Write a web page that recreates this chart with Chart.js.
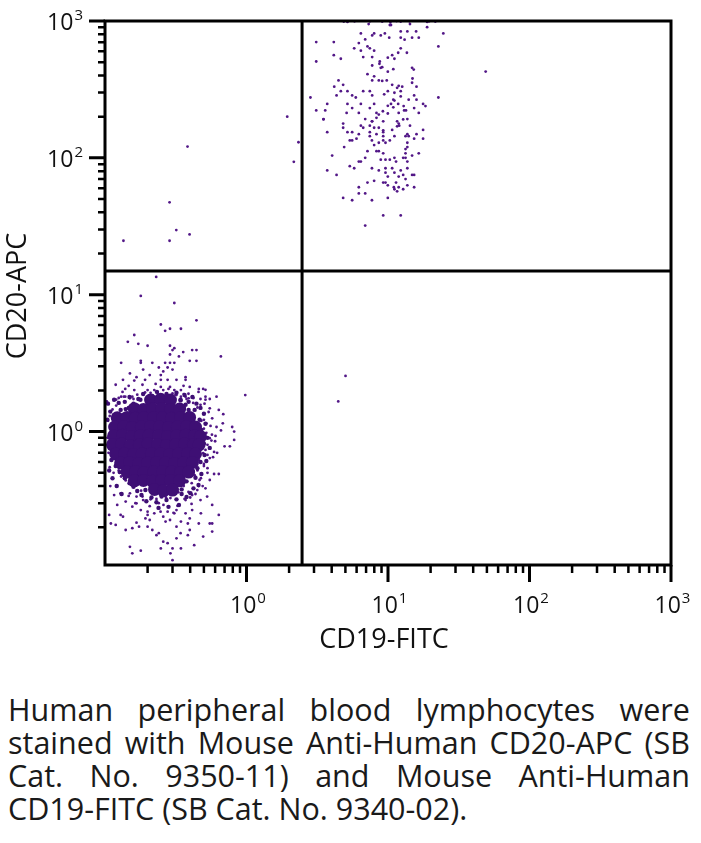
<!DOCTYPE html>
<html>
<head>
<meta charset="utf-8">
<script src="https://cdn.jsdelivr.net/npm/chart.js@4.4.1/dist/chart.umd.min.js"></script>
<style>
  body { margin: 0; background: #fff; width: 701px; height: 843px; overflow: hidden; font-family: 'Open Sans', sans-serif; }
  #plot { position: absolute; left: 0; top: 0; }
  .caption { position: absolute; left: 8px; top: 693px; width: 682px; font-size: 30.5px; line-height: 33px; color: #1a1a1a; }
  .caption .ln { display: flex; justify-content: space-between; white-space: nowrap; }
  .caption .last { white-space: nowrap; }
</style>
</head>
<body>
<canvas id="plot" width="701" height="670"></canvas>
<div class="caption">
  <div class="ln"><span>Human</span><span>peripheral</span><span>blood</span><span>lymphocytes</span><span>were</span></div>
  <div class="ln"><span>stained</span><span>with</span><span>Mouse</span><span>Anti-Human</span><span>CD20-APC</span><span>(SB</span></div>
  <div class="ln"><span>Cat.</span><span>No.</span><span>9350-11)</span><span>and</span><span>Mouse</span><span>Anti-Human</span></div>
  <div class="last">CD19-FITC (SB Cat. No. 9340-02).</div>
</div>
<script>
// axis settings
const xLabel = 'CD19-FITC';
const yLabel = 'CD20-APC';
const xRange = [0.1, 1000];
const yRange = [0.106, 1000];
const majorTicks = [1, 10, 100, 1000];
const majorExps = ['0', '1', '2', '3'];
const decadeStarts = [0.1, 1, 10, 100];
const minorSteps = [2, 3, 4, 5, 6, 7, 8, 9];
const gateX = 2.47;
const gateY = 14.9;

// events, [CD19, CD20]
// dense part of the CD19-CD20- population
const lowerCore = [
  [0.21,1.7],[0.247,1.72],[0.29,1.7],
  [0.161,1.47],[0.187,1.45],[0.217,1.46],[0.251,1.47],[0.29,1.45],[0.337,1.46],
  [0.122,1.26],[0.143,1.27],[0.164,1.25],[0.188,1.26],[0.221,1.27],[0.255,1.26],[0.295,1.25],[0.342,1.26],[0.396,1.27],
  [0.117,1.08],[0.136,1.09],[0.156,1.07],[0.181,1.08],[0.21,1.09],[0.243,1.08],[0.281,1.07],[0.325,1.08],[0.377,1.09],[0.436,1.08],
  [0.115,0.93],[0.133,0.94],[0.154,0.92],[0.178,0.93],[0.205,0.94],[0.239,0.93],[0.277,0.92],[0.32,0.93],[0.371,0.94],[0.43,0.93],[0.473,0.92],
  [0.113,0.80],[0.131,0.81],[0.151,0.79],[0.175,0.80],[0.202,0.81],[0.235,0.80],[0.272,0.79],[0.315,0.80],[0.365,0.81],[0.422,0.80],[0.462,0.80],
  [0.119,0.687],[0.138,0.69],[0.159,0.68],[0.183,0.687],[0.213,0.69],[0.247,0.687],[0.286,0.68],[0.331,0.687],[0.383,0.69],[0.436,0.687],
  [0.129,0.59],[0.149,0.595],[0.173,0.585],[0.2,0.59],[0.232,0.595],[0.268,0.59],[0.31,0.585],[0.359,0.59],[0.415,0.595],
  [0.143,0.506],[0.164,0.51],[0.188,0.50],[0.221,0.506],[0.255,0.51],[0.295,0.506],[0.342,0.50],[0.39,0.506],
  [0.161,0.437],[0.187,0.44],[0.217,0.433],[0.251,0.437],[0.29,0.44],[0.337,0.437],
  [0.224,0.378],[0.259,0.37],[0.3,0.374]
];

// ragged edge round the dense part
const lowerEdge = [
  [0.138,1.65],[0.149,1.79],[0.159,1.6],[0.172,1.73],[0.186,1.88],[0.198,1.69],[0.215,1.82],[0.233,1.95],[0.251,1.76],[0.272,1.88],
  [0.295,1.73],[0.32,1.92],[0.342,1.71],[0.365,1.85],[0.39,1.65],[0.415,1.79],[0.443,1.6],[0.371,1.57],[0.147,1.49],[0.129,1.44],
  [0.43,1.44],[0.473,1.49],[0.5,1.35],[0.466,1.22],[0.513,1.14],[0.48,1.03],[0.53,0.9],[0.5,0.82],[0.55,0.76],[0.505,0.675],
  [0.473,0.6],[0.52,0.61],[0.45,0.54],[0.48,0.49],[0.436,0.46],[0.458,0.407],[0.422,0.385],[0.402,0.355],[0.377,0.333],[0.348,0.35],
  [0.32,0.32],[0.295,0.35],[0.272,0.316],[0.251,0.335],[0.231,0.305],[0.213,0.33],[0.196,0.31],[0.181,0.344],[0.169,0.368],[0.159,0.395],
  [0.149,0.42],[0.138,0.456],[0.127,0.506],[0.119,0.56],[0.111,0.62],[0.281,0.282],[0.239,0.277],[0.333,0.291],[0.105,1.6],[0.109,1.4],
  [0.104,1.22],[0.107,0.52],[0.113,0.456],[0.121,0.4],[0.131,0.35],[0.116,1.71],[0.125,1.62],[0.178,1.71],[0.342,1.69],[0.14,1.46],
  [0.39,1.44],[0.193,0.374],[0.348,0.378],[0.377,0.433]
];

const lowerSpread = [
  [0.309,8.7],[0.443,6.5],[0.248,6.06],[0.288,5.64],[0.266,5.45],[0.344,5.64],[0.161,5.08],[0.145,4.53],[0.172,4.38],[0.2,4.24],
  [0.288,4.24],[0.309,4.07],[0.3,3.94],[0.357,3.81],[0.413,3.94],[0.443,3.94],[0.288,3.66],[0.333,3.54],[0.659,3.54],[0.397,3.29],
  [0.443,3.29],[0.13,3.18],[0.179,3.29],[0.179,3.18],[0.216,3.18],[0.266,3.18],[0.288,3.18],[0.309,3.18],[0.186,2.84],[0.24,2.94],
  [0.258,2.75],[0.277,2.94],[0.3,2.84],[0.15,2.66],[0.167,2.5],[0.161,2.36],[0.134,2.39],[0.192,2.39],[0.207,2.59],[0.248,2.59],
  [0.248,2.39],[0.277,2.39],[0.32,2.39],[0.371,2.5],[0.371,2.39],[0.139,2.05],[0.139,1.8],[0.13,1.8],[0.161,2.01],[0.192,1.93],
  [0.2,2.01],[0.223,2.01],[0.248,2.12],[0.258,2.01],[0.288,2.12],[0.309,2.01],[0.344,2.01],[0.397,2.12],[0.46,2.05],[0.494,2.05],
  [0.513,1.8],[0.614,1.8],[0.344,1.8],[0.371,1.8],[0.413,1.8],
  [0.55,1.73],[0.637,1.44],[0.685,1.34],[0.572,1.25],[0.614,1.08],[0.792,1.08],[0.818,1.0],[0.818,0.87],[0.763,0.78],[0.513,0.97],
  [0.55,0.895],[0.53,0.80],[0.494,0.695],[0.53,0.675],[0.476,0.60],[0.53,0.54],[0.59,0.49],[0.637,0.49],[0.55,0.443],[0.476,0.456],
  [0.103,1.66],[0.12,1.71],[0.136,1.8],[0.156,1.8],[0.108,1.3],[0.11,1.0],[0.107,0.8],[0.112,0.62],[0.108,0.55],[0.115,0.5],
  [0.513,1.71],[0.473,1.57],[0.55,1.48],
  [0.109,0.40],[0.116,0.344],[0.122,0.291],[0.129,0.246],[0.134,0.239],[0.107,0.246],[0.11,0.213],[0.119,0.208],[0.14,0.191],[0.15,0.144],
  [0.156,0.129],[0.179,0.135],[0.167,0.216],[0.174,0.202],[0.156,0.197],[0.193,0.232],[0.207,0.226],[0.2,0.202],[0.216,0.191],[0.231,0.175],
  [0.24,0.181],[0.258,0.157],[0.277,0.153],[0.248,0.14],[0.3,0.14],[0.29,0.129],[0.3,0.115],[0.344,0.14],[0.427,0.148],[0.32,0.166],
  [0.342,0.181],[0.385,0.175],[0.397,0.191],[0.494,0.171],[0.572,0.186],[0.572,0.213],[0.55,0.213],[0.46,0.213],[0.637,0.246],[0.476,0.253],
  [0.572,0.291],[0.397,0.232],[0.385,0.213],[0.344,0.22],[0.32,0.202],[0.288,0.226],[0.268,0.22],[0.258,0.239],[0.309,0.253],[0.277,0.26],
  [0.32,0.267],[0.371,0.253],[0.413,0.267],[0.223,0.253],[0.2,0.26],[0.179,0.267],[0.156,0.283],[0.167,0.299],[0.14,0.308],[0.371,0.316],
  [0.413,0.344],[0.449,0.374],[0.513,0.385],[0.46,0.40],[0.129,0.354],[0.15,0.354],[0.167,0.335],[0.186,0.316],[0.473,0.316],[0.527,0.335],
  [0.235,1.93],[0.3,1.9],[0.32,1.85],[0.36,1.88],[0.39,1.75],[0.42,1.62],[0.45,1.5],[0.5,1.35],[0.48,1.2],[0.52,1.15],
  [0.5,1.05],[0.46,0.62],[0.5,0.58],[0.45,0.52],[0.43,0.48],[0.41,0.42],[0.36,0.4],[0.33,0.36],[0.4,0.33],[0.27,0.33],
  [0.24,0.3],[0.21,0.32],[0.18,0.37],[0.16,0.4],[0.14,0.44],[0.13,0.47],[0.125,0.52],[0.15,1.75],[0.12,1.55],[0.113,1.45],
  [0.105,1.2],[0.104,0.9],[0.106,0.7],[0.55,0.75],[0.57,0.95],[0.6,0.85],[0.58,0.65],[0.62,0.7],[0.66,1.02],[0.68,1.15],[0.7,0.78],
  [0.119,2.2],[0.133,1.95],[0.147,2.16],[0.169,1.86],[0.184,2.2],[0.21,1.92],[0.228,2.23],[0.259,1.82],[0.281,2.05],[0.315,1.86],
  [0.359,2.16],[0.389,1.89],[0.422,1.76],[0.458,1.95],[0.513,2.02],[0.125,1.76],[0.159,1.73],[0.196,1.76],[0.239,1.73],[0.3,1.76],
  [0.377,1.73],[0.473,1.73],
  [0.505,1.6],[0.54,1.39],[0.5,1.22],[0.557,1.1],[0.52,0.98],[0.565,0.86],[0.513,0.735],[0.55,0.64],[0.5,0.56],[0.53,0.5],
  [0.466,0.443],[0.49,0.40],[0.59,0.71],[0.604,0.93],
  [0.147,0.339],[0.164,0.30],[0.184,0.335],[0.207,0.285],[0.231,0.322],[0.259,0.291],[0.29,0.327],[0.325,0.287],[0.365,0.322],[0.409,0.296],
  [0.247,0.26],[0.305,0.255],[0.2,0.246],[0.389,0.362],[0.436,0.35]
];

const upperCluster = [
  [3.11,701],[4.14,701],[3.11,506],[4.14,563],[4.64,530],[2.83,276],[3.11,222],[3.6,222],[3.72,248],[3.5,192],
  [4.17,331],[4.33,286],[4.47,368],[4.82,342],[4.64,307],[5.17,307],[5.17,248],[5.1,213],[5.58,286],[5.58,231],
  [5.77,631],[6.22,690],[6.43,811],[6.43,607],[6.68,545],[5.92,276],[6.43,248],[6.22,213],[6.68,307],[6.9,733],
  [7.16,652],[7.44,631],[7.73,785],[7.98,811],[7.73,545],[7.73,473],[7.98,607],[7.16,409],[7.73,368],[7.98,394],
  [8.61,368],[7.44,307],[7.73,286],[7.98,248],[7.44,231],[8.29,213],[8.61,207],[6.9,192],[7.7,185],[8.89,785],
  [9.5,811],[10.2,755],[10.3,933],[10.5,933],[8.7,487],[8.89,455],[9.1,460],[8.75,506],[9.97,540],[10.7,563],
  [11.1,530],[10.9,445],[9.97,426],[9.1,365],[9.8,368],[10.7,342],[11.6,325],[11.9,336],[12.6,331],[12.3,307],
  [11.1,299],[9.97,307],[9.4,291],[10.9,266],[11.1,262],[10.5,248],[9.97,240],[9.2,219],[9.97,211],[10.9,234],
  [11.8,248],[12.3,281],[11.9,213],[13.0,222],[13.4,222],[12.9,239],[14.0,266],[15.9,266],[15.3,286],[14.8,354],
  [14.9,380],[15.9,331],[14.8,455],[15.2,442],[12.3,839],[13.7,839],[15.8,839],[12.3,755],[13.1,730],[14.8,755],
  [16.5,755],[18.9,902],[24.6,811],[22.7,652],[12.3,631],[11.8,586],[13.6,586],[17.7,248],[18.4,239],[22.7,276],
  [15.3,231],[16.5,213],[13.7,192],[11.6,185],[9.25,185],[8.29,196],
  [4.87,990],[5.17,985],[5.8,995],[7.3,950],[7.44,995],[9.1,990],[10.4,985],[10.4,940],[11.5,998],[12.3,990],
  [14.2,995],[14.3,950],[18.9,985],[19.5,995],[21.6,990],
  [3.5,191],[4.82,178],[4.82,166],[3.72,154],[5.17,154],[5.58,154],[6.43,172],[6.68,166],[7.44,172],[7.73,185],
  [7.98,166],[8.61,166],[9.25,159],[9.25,154],[10.7,160],[11.6,170],[11.9,178],[12.0,172],[12.8,191],[14.3,172],
  [6.22,149],[7.44,154],[7.44,144],[8.29,149],[9.25,144],[11.1,144],[13.3,144],[13.7,149],[14.0,144],[15.9,149],
  [17.7,160],[17.7,138],[15.3,138],[5.37,134],[5.58,134],[5.99,138],[7.7,134],[7.98,124],[8.61,129],[9.25,134],
  [9.6,129],[10.3,134],[13.7,129],[13.7,120],[4.9,120],[4.03,104],[7.16,112],[8.29,112],[8.61,112],[9.25,108],
  [13.3,116],[13.3,108],[14.8,104],[16.5,108],[6.9,100],[8.89,97],[9.6,97],[10.3,97],[11.1,100],[11.4,94],
  [12.8,100],[13.3,100],[13.7,94],[6.22,94],[6.43,94],[5.37,87],[5.77,84],[3.72,81],[4.33,75],[7.7,84],
  [8.61,81],[9.6,84],[9.6,78],[10.7,84],[11.1,78],[12.3,81],[12.8,75],[13.7,84],[14.8,75],[15.3,75],
  [9.97,73],[11.9,73],[13.3,70],[7.16,66],[7.98,68],[9.25,66],[9.6,66],[9.97,63],[11.4,66],[11.9,61],
  [13.7,63],[15.3,61],[6.22,61],[11.0,61],[11.1,59],[11.6,57],[12.8,59],[6.22,55],[6.9,55],[4.82,51],
  [5.58,49],[7.7,49],[9.97,51],[9.25,38],[12.3,38],[6.9,32]
];

const strayEvents = [
  [0.135,24.8],[0.286,47.3],[0.286,24.8],[0.319,29.7],[0.396,27.6],[0.383,121],[1.94,200],[2.33,130],
  [2.16,93.5],[0.23,13.5],[0.179,9.8],[5.01,2.55],[4.45,1.66],[49,427],[0.98,1.85]
];

const dotColor = '#521787';
const coreColor = '#3e0f74';

function toPoints(list) {
  return list.map(p => ({ x: p[0], y: p[1] }));
}

function drawPower(ctx, base, exp, x, y, align, baseSize, expSize) {
  ctx.font = baseSize + 'px "Open Sans"';
  const bw = ctx.measureText(base).width;
  ctx.font = expSize + 'px "Open Sans"';
  const ew = ctx.measureText(exp).width;
  let left = x;
  if (align === 'center') left = x - (bw + ew) / 2;
  if (align === 'right') left = x - bw - ew;
  ctx.textAlign = 'left';
  ctx.textBaseline = 'alphabetic';
  ctx.font = baseSize + 'px "Open Sans"';
  ctx.fillText(base, left, y);
  ctx.font = expSize + 'px "Open Sans"';
  ctx.fillText(exp, left + bw + 1, y - baseSize * 0.42);
}

const flowAxes = {
  id: 'flowAxes',
  afterDatasetsDraw(chart) {
    const { ctx, chartArea: a, scales: { x, y } } = chart;
    ctx.save();
    ctx.strokeStyle = '#000';
    ctx.fillStyle = '#111';
    ctx.lineCap = 'butt';

    // quadrant gates
    ctx.lineWidth = 3;
    const gx = x.getPixelForValue(gateX);
    const gy = y.getPixelForValue(gateY);
    ctx.beginPath();
    ctx.moveTo(gx, a.top); ctx.lineTo(gx, a.bottom);
    ctx.moveTo(a.left, gy); ctx.lineTo(a.right, gy);
    ctx.stroke();

    // frame
    ctx.strokeRect(a.left, a.top, a.right - a.left, a.bottom - a.top);

    // minor ticks
    ctx.lineWidth = 2.5;
    ctx.beginPath();
    decadeStarts.forEach(d => {
      minorSteps.forEach(m => {
        const v = d * m;
        if (v > xRange[0] && v < xRange[1]) {
          const px = x.getPixelForValue(v);
          ctx.moveTo(px, a.bottom); ctx.lineTo(px, a.bottom + 8);
        }
        if (v > yRange[0] && v < yRange[1]) {
          const py = y.getPixelForValue(v);
          ctx.moveTo(a.left, py); ctx.lineTo(a.left - 7, py);
        }
      });
    });
    ctx.stroke();

    // major ticks and labels
    ctx.lineWidth = 3;
    ctx.beginPath();
    majorTicks.forEach(v => {
      const px = x.getPixelForValue(v);
      ctx.moveTo(px, a.bottom); ctx.lineTo(px, a.bottom + 17);
      const py = y.getPixelForValue(v);
      ctx.moveTo(a.left, py); ctx.lineTo(a.left - 16, py);
    });
    ctx.stroke();

    majorTicks.forEach((v, i) => {
      drawPower(ctx, '10', majorExps[i], x.getPixelForValue(v) + 1, 613, 'center', 23, 15);
      drawPower(ctx, '10', majorExps[i], 82, y.getPixelForValue(v) + 9, 'right', 23, 15);
    });

    // axis titles
    ctx.font = '27px "Open Sans"';
    ctx.textAlign = 'center';
    ctx.textBaseline = 'alphabetic';
    ctx.fillText(xLabel, 384, 648);
    ctx.save();
    ctx.translate(26, 296);
    ctx.rotate(-Math.PI / 2);
    ctx.fillText(yLabel, 0, 0);
    ctx.restore();

    ctx.restore();
  }
};

new Chart(document.getElementById('plot'), {
  type: 'scatter',
  data: {
    datasets: [
      { label: 'core', data: toPoints(lowerCore), backgroundColor: coreColor, pointRadius: 6.5, pointBorderWidth: 0 },
      { label: 'edge', data: toPoints(lowerEdge), backgroundColor: coreColor, pointRadius: 2.2, pointBorderWidth: 0 },
      { label: 'spread', data: toPoints(lowerSpread), backgroundColor: dotColor, pointRadius: 1.4, pointBorderWidth: 0 },
      { label: 'CD19+CD20+', data: toPoints(upperCluster), backgroundColor: dotColor, pointRadius: 1.4, pointBorderWidth: 0 },
      { label: 'stray', data: toPoints(strayEvents), backgroundColor: dotColor, pointRadius: 1.4, pointBorderWidth: 0 }
    ]
  },
  options: {
    responsive: false,
    animation: false,
    events: [],
    layout: { padding: { left: 105, right: 30, top: 21, bottom: 105 } },
    scales: {
      x: { type: 'logarithmic', min: xRange[0], max: xRange[1], display: false },
      y: { type: 'logarithmic', min: yRange[0], max: yRange[1], display: false }
    },
    plugins: { legend: { display: false }, tooltip: { enabled: false } }
  },
  plugins: [flowAxes]
});
</script>
</body>
</html>
